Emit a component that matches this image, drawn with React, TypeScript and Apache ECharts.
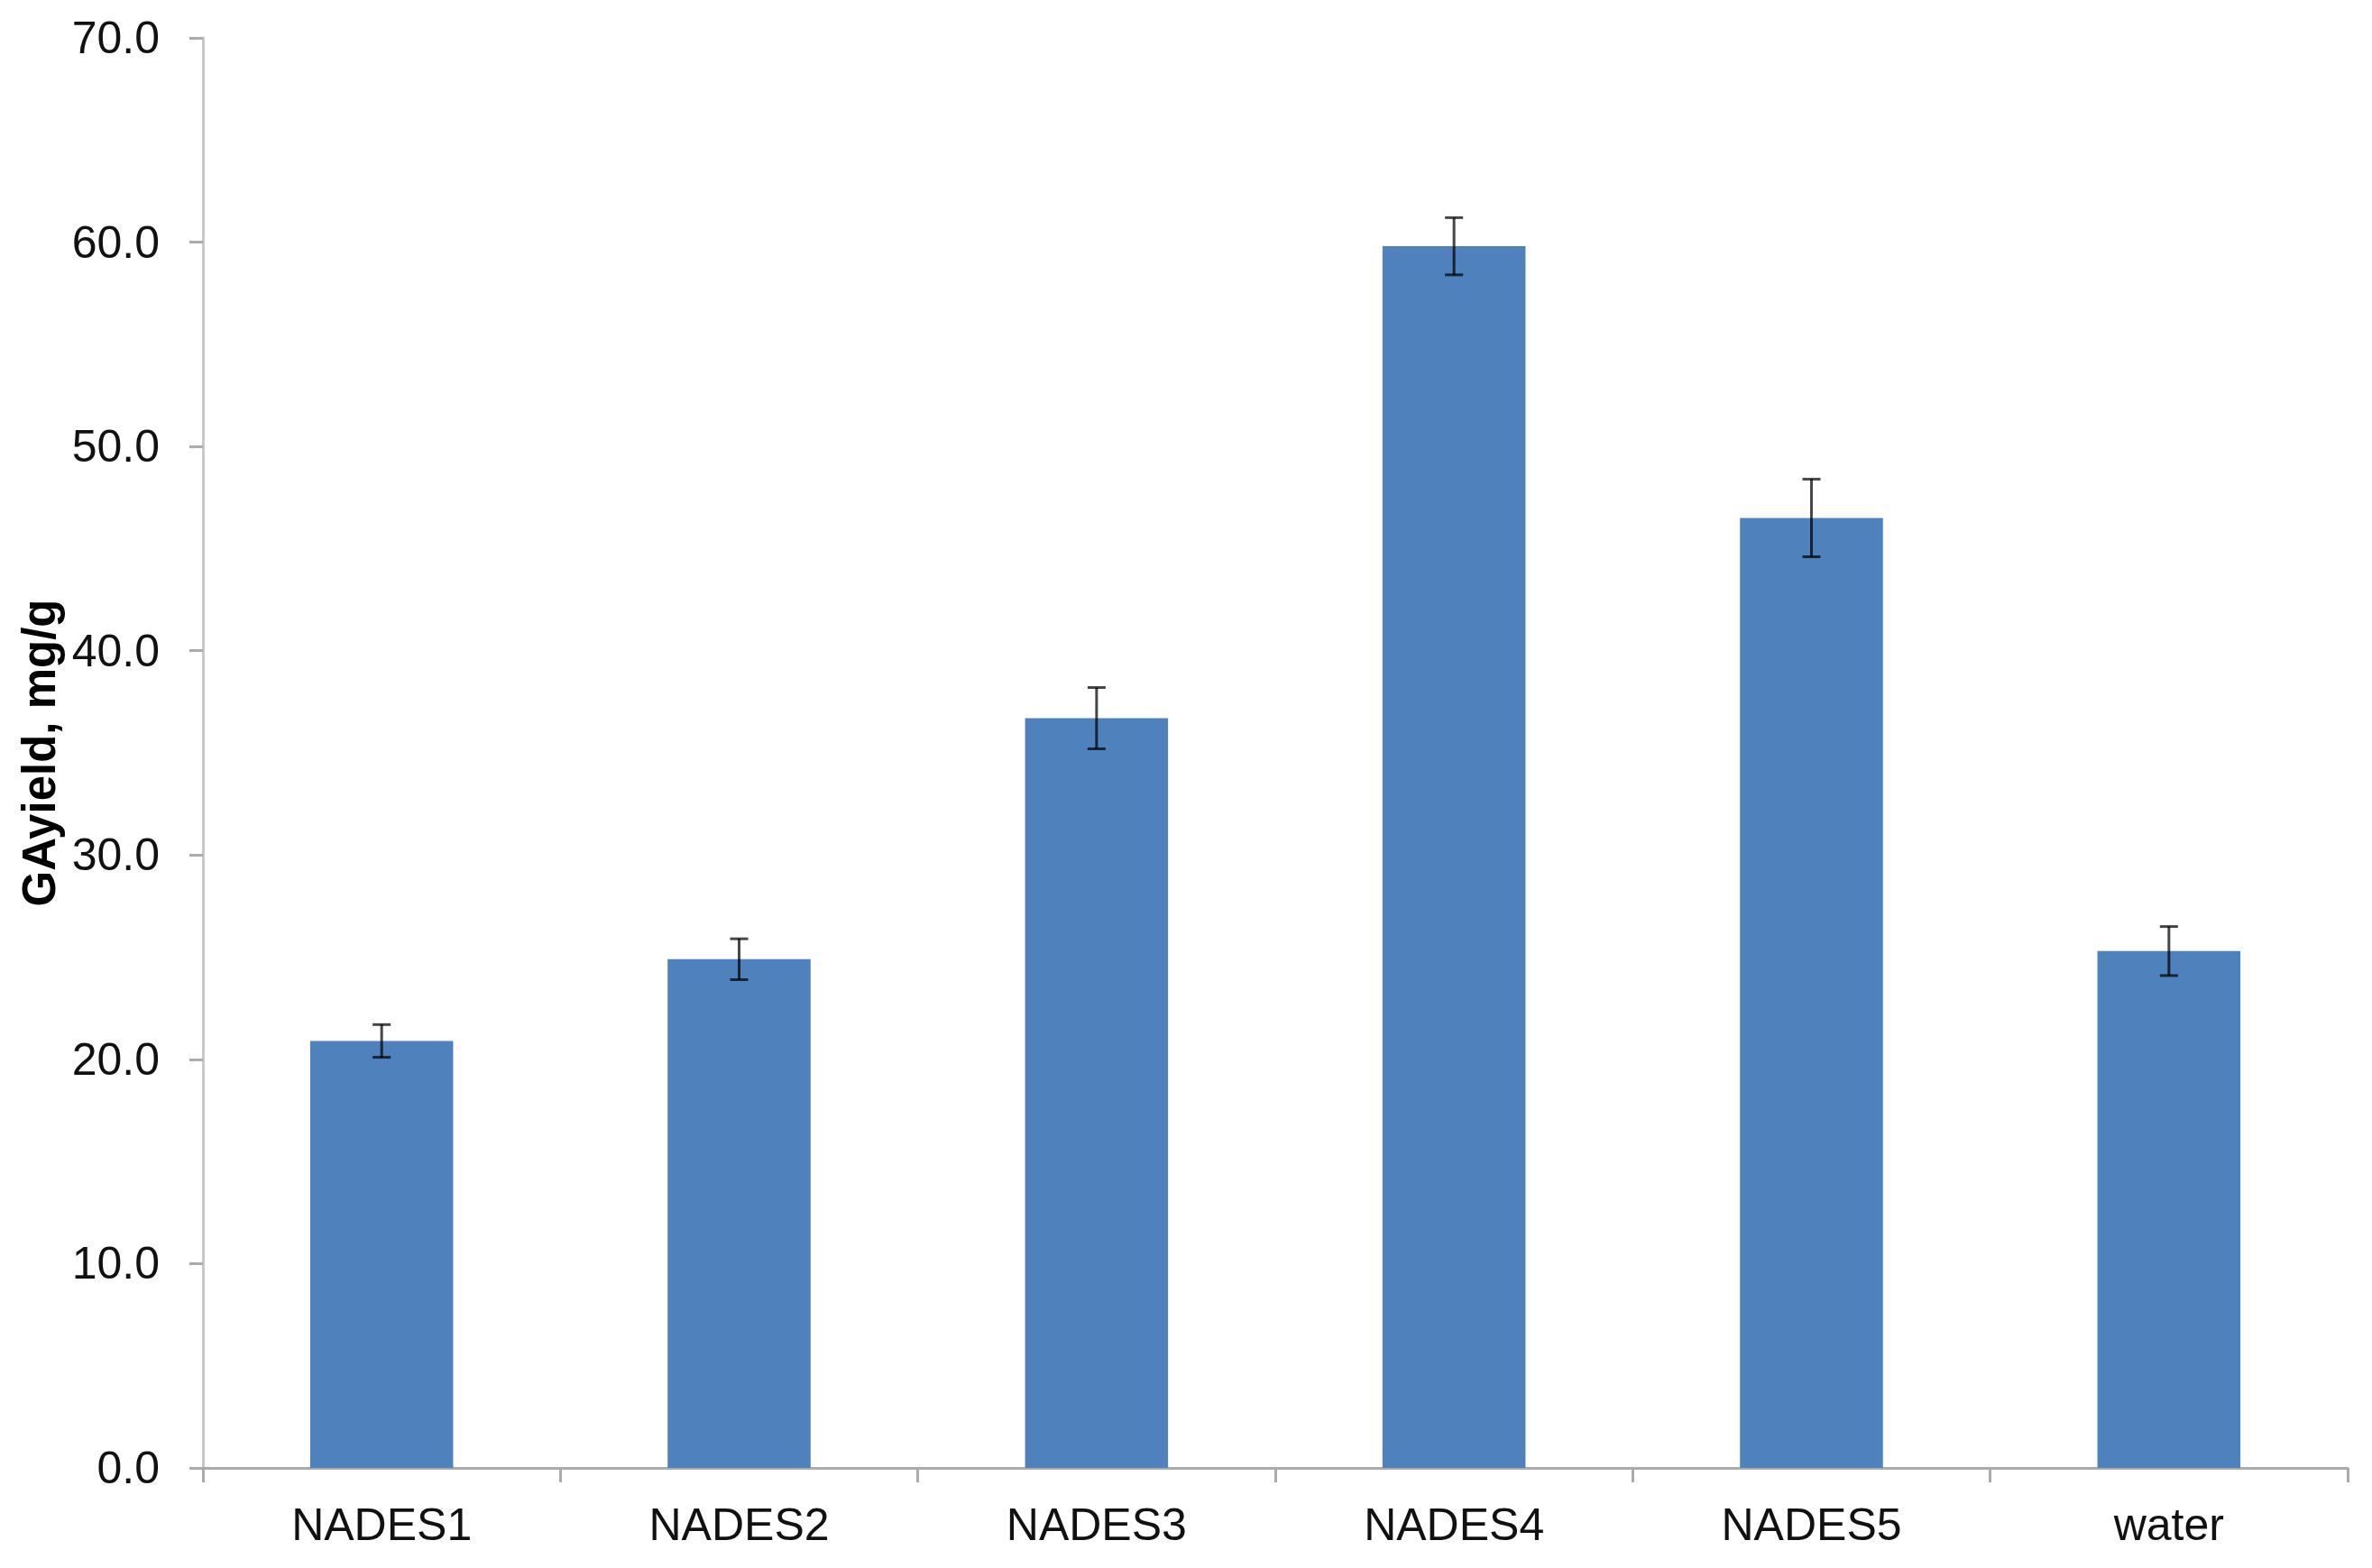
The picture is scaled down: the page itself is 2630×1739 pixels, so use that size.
import React, { useEffect, useRef } from "react";
import * as echarts from "echarts";

const categories = ["NADES1", "NADES2", "NADES3", "NADES4", "NADES5", "water"];
const values = [20.9, 24.9, 36.7, 59.8, 46.5, 25.3];
const errors = [0.8, 1.0, 1.5, 1.4, 1.9, 1.2];
const yTicks = { min: 0, max: 70, interval: 10 };
const yTitle = "GAyield, mg/g";

const FONT = "'Liberation Sans', Arial, sans-serif";

export default function App() {
  const ref = useRef<HTMLDivElement>(null);
  useEffect(() => {
    if (!ref.current) return;
    const chart = echarts.init(ref.current, undefined, { renderer: "svg" });
    const errData = values.map((v, i) => [i, v - errors[i], v + errors[i]]);
    chart.setOption({
      animation: false,
      backgroundColor: "#ffffff",
      textStyle: { fontFamily: FONT },
      grid: { left: 225, right: 27, top: 42, bottom: 111, containLabel: false },
      xAxis: {
        type: "category",
        data: categories,
        boundaryGap: true,
        axisLine: { show: true, lineStyle: { color: "#ABABAB", width: 3 } },
        axisTick: { show: true, length: 16, interval: 0, lineStyle: { color: "#ABABAB", width: 3 } },
        axisLabel: { interval: 0, margin: 38, fontSize: 50, color: "#111", fontFamily: FONT },
        splitLine: { show: false },
      },
      yAxis: {
        type: "value",
        min: yTicks.min,
        max: yTicks.max,
        interval: yTicks.interval,
        name: yTitle,
        nameLocation: "middle",
        nameRotate: 90,
        nameGap: 152,
        nameTextStyle: { fontSize: 51, fontWeight: "bold", color: "#000", fontFamily: FONT },
        axisLine: { show: true, lineStyle: { color: "#C8C8C8", width: 3 } },
        axisTick: { show: true, length: 15, lineStyle: { color: "#ABABAB", width: 3 } },
        axisLabel: {
          margin: 48,
          fontSize: 50,
          color: "#111",
          fontFamily: FONT,
          formatter: (v: number) => v.toFixed(1),
        },
        splitLine: { show: false },
      },
      series: [
        {
          type: "bar",
          data: values,
          barWidth: "40%",
          itemStyle: { color: "#4F81BD" },
          z: 2,
        },
        {
          type: "custom",
          data: errData,
          z: 3,
          renderItem: (params: any, api: any) => {
            const x = api.value(0);
            const lo = api.coord([x, api.value(1)]);
            const hi = api.coord([x, api.value(2)]);
            const cap = 10;
            const style = { stroke: "rgba(0,0,0,0.72)", lineWidth: 3 };
            return {
              type: "group",
              children: [
                { type: "line", shape: { x1: lo[0], y1: lo[1], x2: hi[0], y2: hi[1] }, style },
                { type: "line", shape: { x1: lo[0] - cap, y1: lo[1], x2: lo[0] + cap, y2: lo[1] }, style },
                { type: "line", shape: { x1: hi[0] - cap, y1: hi[1], x2: hi[0] + cap, y2: hi[1] }, style },
              ],
            };
          },
        },
      ],
    });
    return () => chart.dispose();
  }, []);
  return (
    <div
      ref={ref}
      style={{ position: "fixed", left: 0, top: 0, width: 2630, height: 1739, background: "#fff" }}
    />
  );
}
